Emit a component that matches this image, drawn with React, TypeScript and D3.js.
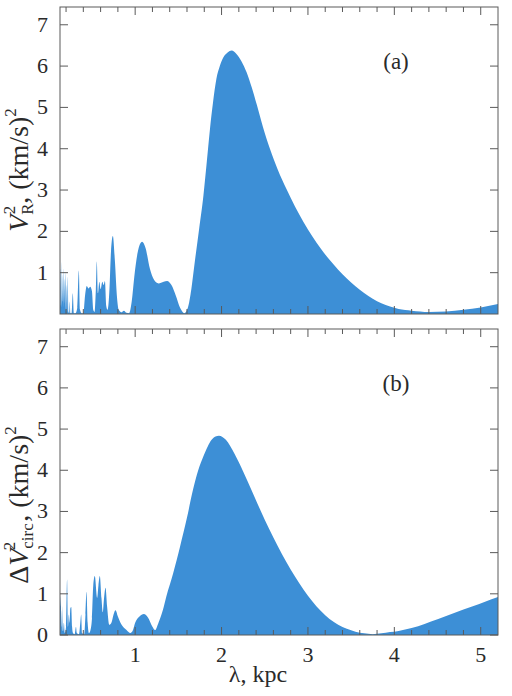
import React from 'react';
import * as d3 from 'd3';

// lambda (kpc) and V_R^2 for panel (a)
const lambdaA = [
  0.13, 0.137, 0.142, 0.147, 0.152, 0.158, 0.163, 0.168, 0.174, 0.18, 0.186, 0.192, 0.198, 0.205, 0.212, 0.22,
  0.228, 0.236, 0.243, 0.25, 0.265, 0.278, 0.29, 0.31, 0.33, 0.348, 0.362, 0.38, 0.4, 0.42, 0.44, 0.46, 0.48,
  0.5, 0.515, 0.53, 0.545, 0.556, 0.57, 0.585, 0.6, 0.62, 0.635, 0.65, 0.665, 0.68, 0.7, 0.72, 0.742, 0.765,
  0.79, 0.81, 0.84, 0.87, 0.9, 0.93, 0.96, 0.99, 1.03, 1.08, 1.12, 1.17, 1.22, 1.27, 1.33, 1.37, 1.42, 1.47,
  1.52, 1.57, 1.61, 1.65, 1.69, 1.74, 1.79, 1.83, 1.866, 1.9, 1.94, 1.98, 2.02, 2.07, 2.117, 2.17, 2.23, 2.29,
  2.35, 2.41, 2.48, 2.56, 2.65, 2.75, 2.85, 2.95, 3.05, 3.15, 3.25, 3.35, 3.45, 3.55, 3.65, 3.75, 3.85, 3.95,
  4.05, 4.2, 4.4, 4.6, 4.8, 5.0, 5.2,
];
const vR2 = [
  0.4, 1.1, 0.2, 1.26, 0.15, 0.95, 0.3, 1.1, 0.1, 0.85, 0.2, 1.0, 0.05, 0.7, 0.05, 0.9,
  0.05, 0.02, 0.3, 0.02, 0.02, 0.5, 0.02, 0.02, 0.15, 1.05, 0.1, 0.02, 0.02, 0.45, 0.68, 0.62, 0.66,
  0.55, 0.1, 0.05, 0.6, 1.27, 0.5, 0.78, 0.6, 0.78, 0.7, 0.8, 0.2, 0.1, 0.5, 1.5, 1.89, 1.3,
  0.4, 0.1, 0.04, 0.08, 0.03, 0.02, 0.3, 0.9, 1.5, 1.75, 1.6, 1.1, 0.82, 0.74, 0.78, 0.8, 0.7, 0.45,
  0.15, 0.02, 0.15, 0.6, 1.26, 2.05, 2.86, 3.7, 4.48, 5.1, 5.69, 6.0, 6.21, 6.33, 6.38, 6.3, 6.12, 5.85,
  5.48, 5.05, 4.52, 4.0, 3.5, 3.03, 2.6, 2.22, 1.88, 1.58, 1.31, 1.07, 0.86, 0.67, 0.51, 0.37, 0.26, 0.18,
  0.12, 0.08, 0.05, 0.06, 0.1, 0.16, 0.24,
];

// lambda (kpc) and delta V_circ^2 for panel (b)
const lambdaB = [
  0.13, 0.135, 0.14, 0.145, 0.15, 0.155, 0.16, 0.165, 0.175, 0.185, 0.2, 0.212, 0.222, 0.232, 0.24, 0.25,
  0.26, 0.27, 0.28, 0.3, 0.315, 0.325, 0.35, 0.365, 0.375, 0.385, 0.41, 0.425, 0.437, 0.45, 0.465, 0.48,
  0.5, 0.515, 0.533, 0.56, 0.575, 0.591, 0.61, 0.625, 0.64, 0.657, 0.675, 0.7, 0.725, 0.75, 0.773, 0.8,
  0.83, 0.86, 0.9, 0.94, 0.97, 1.0, 1.05, 1.1, 1.15, 1.2, 1.23, 1.27, 1.32, 1.36, 1.44, 1.52, 1.6, 1.67,
  1.73, 1.79, 1.84, 1.885, 1.93, 1.97, 2.05, 2.15, 2.25, 2.35, 2.45, 2.55, 2.65, 2.75, 2.85, 2.95, 3.05,
  3.15, 3.25, 3.35, 3.45, 3.55, 3.65, 3.75, 3.85, 3.95, 4.05, 4.2, 4.35, 4.5, 4.7, 4.9, 5.05, 5.2,
];
const dVcirc2 = [
  0.9, 0.7, 0.95, 0.2, 0.6, 0.1, 0.7, 0.1, 0.3, 0.05, 0.2, 1.35, 0.2, 0.5, 0.3, 0.65,
  0.68, 0.2, 0.05, 0.02, 0.2, 0.05, 0.02, 0.3, 0.5, 0.05, 0.02, 0.5, 1.05, 0.3, 0.05, 0.1,
  0.4, 1.2, 1.43, 0.9, 1.2, 1.43, 0.9, 0.55, 0.9, 1.15, 0.7, 0.25, 0.3, 0.5, 0.6, 0.45,
  0.3, 0.2, 0.12, 0.05, 0.1, 0.3, 0.45, 0.51, 0.42, 0.2, 0.12, 0.3, 0.6, 0.93, 1.5, 2.15, 2.85, 3.53,
  4.0, 4.34, 4.58, 4.74, 4.82, 4.84, 4.74, 4.4, 3.97, 3.5, 3.03, 2.58, 2.16, 1.77, 1.42, 1.1, 0.82,
  0.58, 0.39, 0.25, 0.15, 0.08, 0.04, 0.02, 0.04, 0.07, 0.1, 0.17, 0.27, 0.38, 0.54, 0.69, 0.81, 0.92,
];

const xTicks = [1, 2, 3, 4, 5];
const yTicksA = [1, 2, 3, 4, 5, 6, 7];
const yTicksB = [0, 1, 2, 3, 4, 5, 6, 7];

const W = 512;
const H = 696;
const left = 60;
const right = 498;
const fill = '#3d8fd6';
const frame = '#5a5a5a';
const ink = '#2a2a2a';
const serif = { fontFamily: 'Liberation Serif' };

const x = d3.scaleLinear().domain([0.13, 5.2]).range([left, right]);
const minor = d3.range(0.2, 5.2, 0.2).filter((d) => Math.abs(d - Math.round(d)) > 0.01);

function Panel({ top, bottom, xs, ys, yTicks, tag, showX }) {
  const y = d3.scaleLinear().domain([0, 7.43]).range([bottom, top]);
  const area = d3
    .area<number>()
    .x((d, i) => x(xs[i]))
    .y0(bottom)
    .y1((d) => y(d))
    .curve(d3.curveMonotoneX);
  return (
    <g>
      <path d={area(ys) || ''} fill={fill} />
      <rect x={left} y={top} width={right - left} height={bottom - top} fill="none" stroke={frame} strokeWidth={1} />
      {xTicks.map((t) => (
        <g key={'mx' + t}>
          <line x1={x(t)} x2={x(t)} y1={bottom} y2={bottom - 8} stroke={frame} />
          <line x1={x(t)} x2={x(t)} y1={top} y2={top + 8} stroke={frame} />
        </g>
      ))}
      {minor.map((t) => (
        <g key={'mn' + t}>
          <line x1={x(t)} x2={x(t)} y1={bottom} y2={bottom - 5} stroke={frame} />
          <line x1={x(t)} x2={x(t)} y1={top} y2={top + 5} stroke={frame} />
        </g>
      ))}
      {yTicks.map((t) => (
        <g key={'y' + t}>
          <line x1={left} x2={left + 8} y1={y(t)} y2={y(t)} stroke={frame} />
          <line x1={right} x2={right - 8} y1={y(t)} y2={y(t)} stroke={frame} />
          <text x={48} y={y(t) + 7} textAnchor="end" fontSize={22} fill={ink} style={serif}>
            {t}
          </text>
        </g>
      ))}
      {showX &&
        xTicks.map((t) => (
          <text key={'xl' + t} x={x(t)} y={662} textAnchor="middle" fontSize={22} fill={ink} style={serif}>
            {t}
          </text>
        ))}
      <text x={396} y={top + 62} textAnchor="middle" fontSize={23} fill={ink} style={serif}>
        {tag}
      </text>
    </g>
  );
}

export default function App() {
  return (
    <svg width={W} height={H} style={{ position: 'absolute', left: 0, top: 0, background: '#fff' }}>
      <Panel top={7} bottom={314} xs={lambdaA} ys={vR2} yTicks={yTicksA} tag="(a)" showX={false} />
      <Panel top={329} bottom={635} xs={lambdaB} ys={dVcirc2} yTicks={yTicksB} tag="(b)" showX={true} />
      <text transform="translate(28,170) rotate(-90)" textAnchor="middle" fontSize={28} fill={ink} style={serif}>
        <tspan fontStyle="italic">V</tspan>
        <tspan fontSize={17} dy={5}>R</tspan>
        <tspan fontSize={17} dx={-11} dy={-18}>2</tspan>
        <tspan dx={2} dy={13}>, (km/s)</tspan>
        <tspan fontSize={17} dy={-12}>2</tspan>
      </text>
      <text transform="translate(28,505) rotate(-90)" textAnchor="middle" fontSize={28} fill={ink} style={serif}>
        <tspan>Δ</tspan>
        <tspan fontStyle="italic">V</tspan>
        <tspan fontSize={17} dy={5}>circ</tspan>
        <tspan fontSize={17} dx={-27} dy={-18}>2</tspan>
        <tspan dx={20} dy={13}>, (km/s)</tspan>
        <tspan fontSize={17} dy={-12}>2</tspan>
      </text>
      <text x={258} y={682} textAnchor="middle" fontSize={24} fill={ink} style={serif}>
        λ, kpc
      </text>
    </svg>
  );
}
